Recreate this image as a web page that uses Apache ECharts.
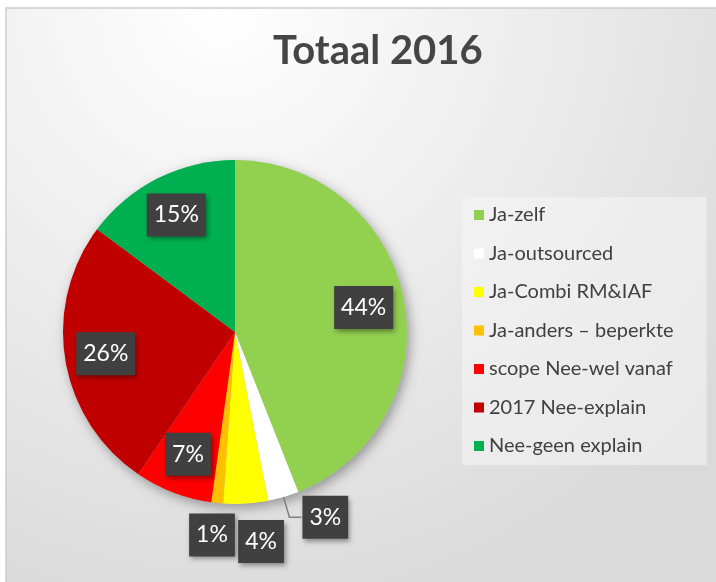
<!DOCTYPE html>
<html>
<head>
<meta charset="utf-8">
<title>Totaal 2016</title>
<script src="https://cdn.jsdelivr.net/npm/echarts@6/dist/echarts.min.js"></script>
<style>
  html, body { margin: 0; padding: 0; background: #ffffff; }
  #main { width: 716px; height: 582px; }
</style>
</head>
<body>
<div id="main"></div>
<script>
// categorieen zoals in de legenda
var categories = ['Ja-zelf', 'Ja-outsourced', 'Ja-Combi RM&IAF', 'Ja-anders \u2013 beperkte', 'scope Nee-wel vanaf', '2017 Nee-explain', 'Nee-geen explain'];
var shares = [44.0, 2.9, 4.2, 1.1, 7.3, 25.7, 14.8];
var colors = ['#92d050', '#ffffff', '#ffff00', '#ffc000', '#ff0000', '#c00000', '#00b050'];

var chart = echarts.init(document.getElementById('main'), null, { renderer: 'canvas' });

var font = 'Lato, "Open Sans", sans-serif';
var R = 172;
var center = [235, 332];

// labels: kleine stukjes buiten de taart
var outsideLabel = {
    1: { length: 21, length2: 12, dist: 1, line: true },
    2: { length: 38, length2: 13, dist: -23, line: false },
    3: { length: 32, length2: 2, dist: -23, line: false }
};

var pieData = categories.map(function (name, i) {
    return { name: name, value: shares[i], itemStyle: { color: colors[i] } };
});

var shadowData = categories.map(function (name, i) {
    return { name: name, value: shares[i] };
});

var labelData = categories.map(function (name, i) {
    var item = { name: name, value: shares[i] };
    var o = outsideLabel[i];
    if (o) {
        item.label = { position: 'outside', distanceToLabelLine: o.dist };
        item.labelLine = { show: o.line, length: o.length, length2: o.length2 };
    }
    return item;
});

var option = {
    animation: false,
    color: colors,
    graphic: [{
        type: 'rect',
        z: -10,
        silent: true,
        shape: { x: 6, y: 8, width: 720, height: 590 },
        style: {
            fill: new echarts.graphic.RadialGradient(0.3, 0.0, 1.05, [
                { offset: 0, color: '#ffffff' },
                { offset: 1, color: '#dadada' }
            ]),
            stroke: '#cdcdcd',
            lineWidth: 1.5
        }
    }],
    title: {
        text: 'Totaal 2016',
        left: 268,
        top: 26,
        textStyle: { fontFamily: font, fontSize: 40, fontWeight: 'bold', color: '#454545' }
    },
    legend: {
        orient: 'vertical',
        left: 462,
        top: 197,
        data: categories,
        icon: 'rect',
        itemWidth: 10,
        itemHeight: 10,
        itemGap: 18.5,
        padding: [8, 33, 9, 12],
        backgroundColor: 'rgba(245,245,245,0.55)',
        selectedMode: false,
        textStyle: { fontFamily: font, fontSize: 20, color: '#404040', lineHeight: 20 }
    },
    series: [
        {
            name: 'Totaal 2016',
            type: 'pie',
            center: center,
            radius: [0, R],
            startAngle: 90,
            z: 3,
            label: { show: false },
            labelLine: { show: false },
            emphasis: { disabled: true },
            data: pieData
        },
        {
            // schaduw onder de taart
            type: 'pie',
            center: center,
            radius: [0, R],
            startAngle: 90,
            z: 1,
            silent: true,
            label: { show: false },
            labelLine: { show: false },
            itemStyle: {
                color: '#cfcfcf',
                shadowBlur: 12,
                shadowColor: 'rgba(0,0,0,0.35)',
                shadowOffsetX: 3,
                shadowOffsetY: 4
            },
            data: shadowData
        },
        {
            // ring alleen voor de percentage labels
            type: 'pie',
            center: center,
            radius: [84, R],
            startAngle: 90,
            z: 5,
            silent: true,
            avoidLabelOverlap: false,
            itemStyle: { color: 'rgba(0,0,0,0)' },
            label: {
                show: true,
                position: 'inside',
                formatter: function (p) { return Math.round(p.percent) + '%'; },
                fontFamily: font,
                fontSize: 23,
                lineHeight: 25,
                color: '#ffffff',
                backgroundColor: '#404040',
                padding: [9, 7, 9, 7],
                shadowBlur: 5,
                shadowColor: 'rgba(0,0,0,0.4)',
                shadowOffsetX: 2,
                shadowOffsetY: 3
            },
            labelLine: {
                lineStyle: { color: '#808080', width: 1.5 }
            },
            data: labelData
        }
    ]
};

chart.setOption(option);
</script>
</body>
</html>
